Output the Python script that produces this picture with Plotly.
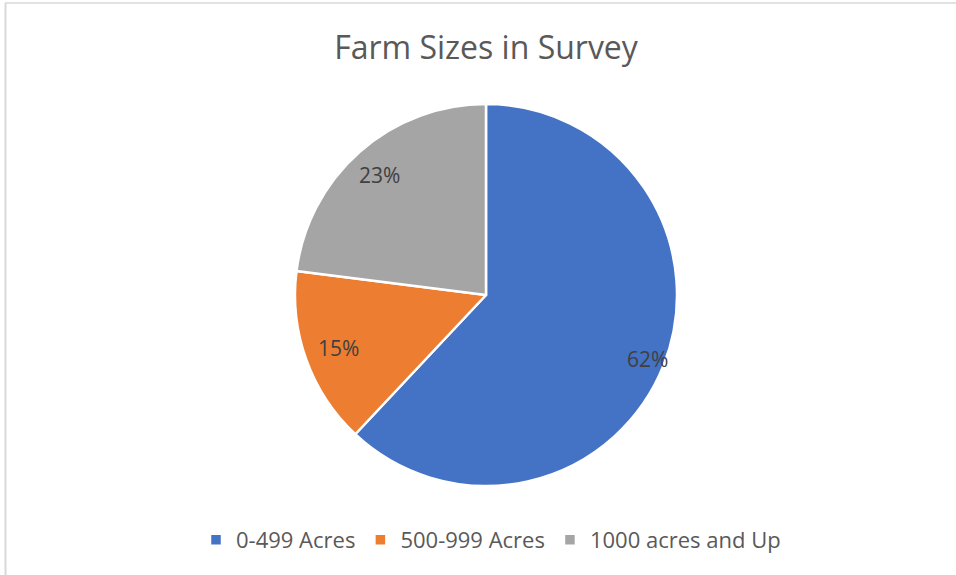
import math
import plotly.graph_objects as go

# Survey data
categories = ["0-499 Acres", "500-999 Acres", "1000 acres and Up"]
shares = [62, 15, 23]
colors = ["#4472C4", "#ED7D31", "#A5A5A5"]
label_r = [0.91, 0.82, 0.84]  # label distance from centre, as fraction of radius

W, H = 956, 575
cx, cy, R = 486, 295, 191  # pie centre / radius in pixels

dom_x = [(cx - R) / W, (cx + R) / W]
dom_y = [(H - cy - R) / H, (H - cy + R) / H]

fig = go.Figure(go.Pie(
    labels=categories,
    values=shares,
    sort=False,
    direction="clockwise",
    rotation=0,
    marker=dict(colors=colors, line=dict(color="white", width=2.5)),
    textinfo="none",
    hoverinfo="label+percent",
    domain=dict(x=dom_x, y=dom_y),
))

# percentage labels placed along each slice's mid-angle
total = sum(shares)
cum = 0
annotations = []
for v, fr in zip(shares, label_r):
    mid = (cum + v / 2) / total * 2 * math.pi
    cum += v
    px = cx + fr * R * math.sin(mid)
    py = cy - fr * R * math.cos(mid)
    annotations.append(dict(
        x=px / W, y=(H - py) / H, xref="paper", yref="paper",
        text=f"{round(v / total * 100)}%", showarrow=False,
        font=dict(family="Open Sans", size=21, color="#404040"),
        xanchor="center", yanchor="middle",
    ))

fig.update_layout(
    width=W, height=H,
    margin=dict(l=0, r=0, t=0, b=0),
    paper_bgcolor="white",
    plot_bgcolor="white",
    title=dict(text="Farm Sizes in Survey", x=486 / W, xanchor="center",
               y=1 - 48 / H, yanchor="middle",
               font=dict(family="Open Sans", size=32, color="#595959")),
    legend=dict(orientation="h", x=491 / W, xanchor="center",
                y=1 - 540 / H, yanchor="middle",
                font=dict(family="Open Sans", size=22, color="#595959"),
                itemwidth=30, traceorder="normal"),
    annotations=annotations,
    shapes=[
        dict(type="line", xref="paper", yref="paper", x0=5 / W, x1=1, y0=1 - 3 / H, y1=1 - 3 / H,
             line=dict(color="#D9D9D9", width=1.5)),
        dict(type="line", xref="paper", yref="paper", x0=5.5 / W, x1=5.5 / W, y0=0, y1=1 - 3 / H,
             line=dict(color="#D9D9D9", width=2)),
    ],
)

fig.write_html("out.html")
